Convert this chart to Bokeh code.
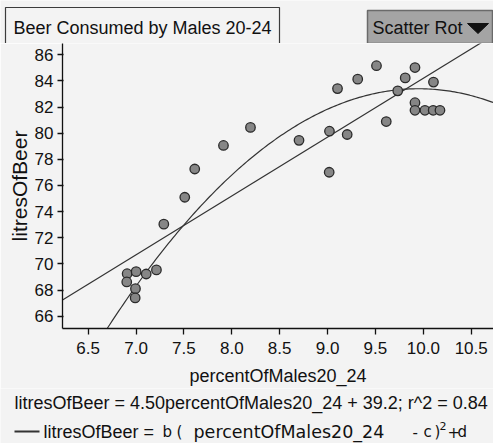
import numpy as np
from bokeh.plotting import figure
from bokeh.layouts import column
from bokeh.models import FixedTicker, Range1d, NumeralTickFormatter
from bokeh.core.properties import value
from bokeh.embed import file_html
from bokeh.resources import INLINE

# ---- data ----
percent_males = [6.907, 7.001, 7.106, 7.213, 6.903, 6.994, 6.991, 7.290, 7.509, 7.613,
                 7.913, 8.195, 8.702, 9.020, 9.017, 9.205, 9.104, 9.315, 9.511, 9.613,
                 9.733, 9.811, 9.913, 10.106, 9.913, 9.913, 10.017, 10.103, 10.174]
litres_beer = [69.25, 69.41, 69.23, 69.54, 68.62, 68.11, 67.40, 73.04, 75.10, 77.26,
               79.06, 80.44, 79.45, 80.15, 77.01, 79.90, 83.41, 84.13, 85.16, 80.89,
               83.24, 84.23, 85.02, 83.91, 82.33, 81.75, 81.75, 81.75, 81.75]

# linear fit  litresOfBeer = slope*percent + intercept
lin_slope = 4.50
lin_intercept = 39.2
# quadratic fit  litresOfBeer = b (percent - c)^2 + d
quad_b = -1.735
quad_c = 9.95
quad_d = 83.4

x_ticks = [6.5, 7.0, 7.5, 8.0, 8.5, 9.0, 9.5, 10.0, 10.5]
y_ticks = [66, 68, 70, 72, 74, 76, 78, 80, 82, 84, 86]

x_lo, x_hi = 6.232, 10.733
y_lo, y_hi = 65.06, 86.86

BG = "#f3f3f3"
INK = "#111111"
LINE = "#333333"
FONT = "Liberation Sans"
W = 493
TOP_H = 43            # strip above the plot frame
MAIN_H = 345          # plot frame (286) + x axis area
BOT_H = 443 - TOP_H - MAIN_H
TEXT_DY = -6          # baseline correction observed for text glyphs


def strip(h, y_top):
    f = figure(width=W, height=h, output_backend="svg", toolbar_location=None,
               x_range=Range1d(0, W), y_range=Range1d(y_top + h, y_top),
               x_axis_location=None, y_axis_location=None,
               min_border=0, min_border_left=0, min_border_right=0,
               min_border_top=0, min_border_bottom=0, frame_align=False,
               background_fill_color=BG, border_fill_color=BG, outline_line_color=None)
    f.grid.visible = False
    return f


def put_text(f, x, y, s, size="18px", font=FONT):
    f.text(x=[x], y=[y + TEXT_DY], text=[s], text_font=value(font),
           text_font_size=value(size), text_color=INK, text_align="left",
           text_baseline="alphabetic")


# ---- top strip: title tab and menu button ----
top = strip(TOP_H, 0)
top.line(x=[5, 5, 279, 279], y=[43, 7, 7, 43], line_color="#3c3c3c", line_width=1.2)
put_text(top, 13, 33, "Beer Consumed by Males 20-24")
top.quad(left=[367], right=[492], top=[10], bottom=[43],
         fill_color="#a4a4a4", line_color="#6a6a6a", line_width=1.5)
put_text(top, 372, 33, "Scatter Rot")
top.patch(x=[467, 488, 477.5], y=[23, 23, 33], fill_color=INK, line_color=INK)

# ---- main scatter plot ----
p = figure(width=W, height=MAIN_H, output_backend="svg", toolbar_location=None,
           x_range=Range1d(x_lo, x_hi), y_range=Range1d(y_lo, y_hi),
           min_border_left=62, min_border_right=0, min_border_top=0,
           min_border_bottom=MAIN_H - 286, frame_align=False,
           background_fill_color=BG, border_fill_color=BG, outline_line_color=None)
p.grid.visible = False

for ax in (p.xaxis[0], p.yaxis[0]):
    ax.axis_line_color = INK
    ax.axis_line_width = 1.3
    ax.major_tick_line_color = INK
    ax.major_tick_line_width = 1.3
    ax.minor_tick_line_color = None
    ax.major_label_text_font = FONT
    ax.major_label_text_font_size = "17px"
    ax.major_label_text_color = INK
    ax.axis_label_text_font = FONT
    ax.axis_label_text_font_size = "18px"
    ax.axis_label_text_font_style = "normal"
    ax.axis_label_text_color = INK

p.xaxis.ticker = FixedTicker(ticks=x_ticks)
p.xaxis.formatter = NumeralTickFormatter(format="0.0")
p.xaxis.major_tick_out = 6
p.xaxis.major_tick_in = 0
p.xaxis.major_label_standoff = 7
p.xaxis.axis_label = "percentOfMales20_24"
p.xaxis.axis_label_standoff = 9

p.yaxis.ticker = FixedTicker(ticks=y_ticks)
p.yaxis.major_tick_out = 5
p.yaxis.major_tick_in = 1
p.yaxis.major_label_standoff = 4
p.yaxis.axis_label = "litresOfBeer"
p.yaxis.axis_label_text_font_size = "21px"
p.yaxis.axis_label_standoff = 1

xs_lin = np.array([x_lo, x_hi])
p.line(xs_lin, lin_slope * xs_lin + lin_intercept, line_color=LINE, line_width=1.2)
xs_q = np.linspace(x_lo, x_hi, 200)
p.line(xs_q, quad_b * (xs_q - quad_c) ** 2 + quad_d, line_color=LINE, line_width=1.2)

p.scatter(percent_males, litres_beer, marker="circle", size=9.5,
          fill_color="#868686", line_color="#2a2a2a", line_width=1.3)

# ---- bottom strip: fit descriptions ----
y0 = TOP_H + MAIN_H
bot = strip(BOT_H, y0)
put_text(bot, 14, 408, "litresOfBeer = 4.50percentOfMales20_24 + 39.2; r^2 = 0.84")
bot.line(x=[14, 39], y=[431, 431], line_color=LINE, line_width=2.2)
put_text(bot, 43, 437, "litresOfBeer =")
small = "DejaVu Sans"
put_text(bot, 162, 437, "b", size="15px", font=small)
put_text(bot, 176, 437, "(", size="15px", font=small)
put_text(bot, 193, 437, "percentOfMales20_24", size="17.5px", font=small)
put_text(bot, 412, 437, "-", size="15px", font=small)
put_text(bot, 423, 437, "c", size="15px", font=small)
put_text(bot, 434, 437, ")", size="15px", font=small)
put_text(bot, 439, 431, "2", size="11px", font=small)
put_text(bot, 447, 437, "+", size="15px", font=small)
put_text(bot, 457, 437, "d", size="15px", font=small)

layout = column(top, p, bot)
open("out.html", "w").write(file_html(layout, INLINE))
